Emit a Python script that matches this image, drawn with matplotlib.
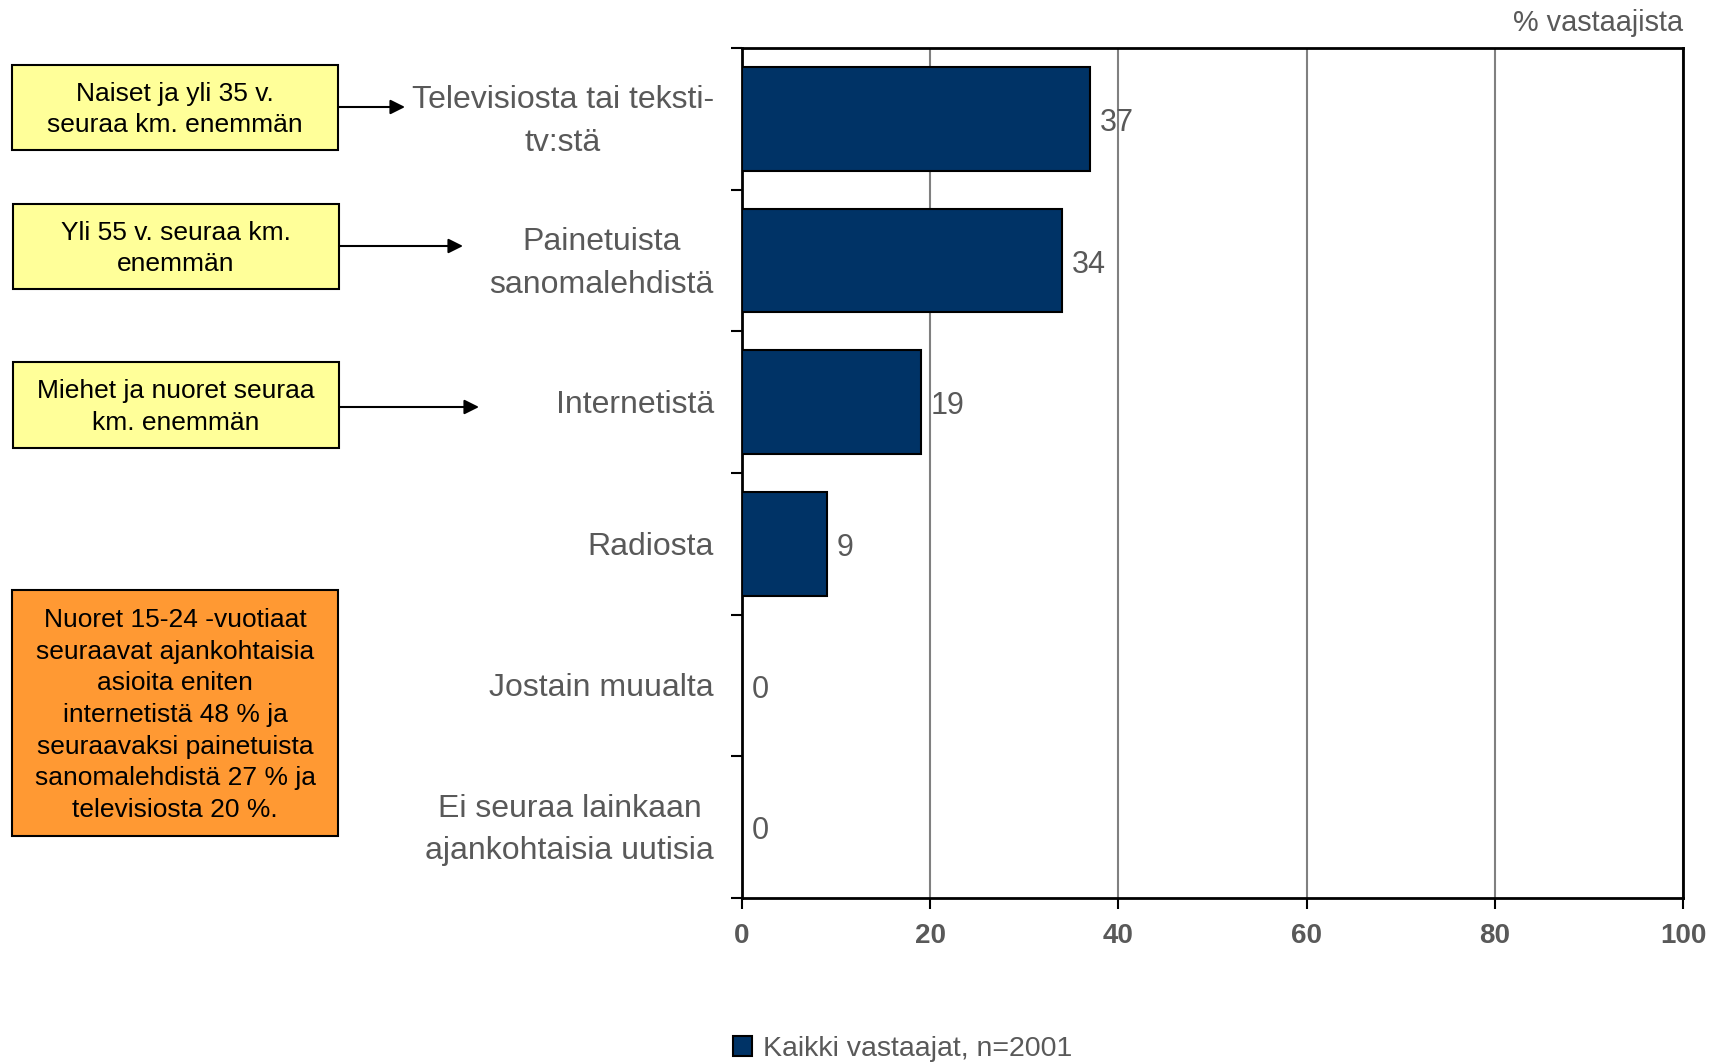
import matplotlib
matplotlib.use("Agg")
import matplotlib.pyplot as plt
from matplotlib.patches import Rectangle, Patch
from matplotlib import font_manager

plt.rcParams['font.family'] = ['Liberation Sans', 'DejaVu Sans']

categories = ["Televisiosta tai teksti-\ntv:stä", "Painetuista\nsanomalehdistä", "Internetistä",
              "Radiosta", "Jostain muualta", "Ei seuraa lainkaan\najankohtaisia uutisia"]
values = [37, 34, 19, 9, 0, 0]
xticks = [0, 20, 40, 60, 80, 100]
series_label = "Kaikki vastaajat, n=2001"
unit_label = "% vastaajista"

notes = ["Naiset ja yli 35 v.\nseuraa km. enemmän",
         "Yli 55 v. seuraa km.\nenemmän",
         "Miehet ja nuoret seuraa\nkm. enemmän"]
orange_note = ("Nuoret 15-24 -vuotiaat\nseuraavat ajankohtaisia\nasioita eniten\n"
               "internetistä 48 % ja\nseuraavaksi painetuista\nsanomalehdistä 27 % ja\n"
               "televisiosta 20 %.")

names = {f.name for f in font_manager.fontManager.ttflist}
narrow = 'Liberation Sans Narrow' in names

W, H = 1717, 1063
fig = plt.figure(figsize=(W / 100, H / 100), dpi=100)
ax = fig.add_axes([742 / W, 1 - 898 / H, (1683 - 742) / W, (898 - 48) / H])

bar_color = '#003366'
gray = '#595959'
n = len(categories)
pos = list(range(n))
ax.barh(pos, values, height=0.73, color=bar_color, edgecolor='black', linewidth=1.5, zorder=3)
ax.set_ylim(n - 0.5, -0.5)
ax.set_xlim(0, 100)

ax.set_xticks(xticks)
if narrow:
    ax.set_xticklabels([str(t) for t in xticks], fontweight='bold', color=gray, fontsize=21,
                       family='Liberation Sans Narrow')
else:
    ax.set_xticklabels([str(t) for t in xticks], fontweight='bold', color=gray, fontsize=20,
                       fontstretch='condensed')
ax.set_yticks([i - 0.5 for i in range(n + 1)])
ax.set_yticklabels([])
ax.tick_params(axis='x', length=8, width=1.5, pad=10, direction='out')
ax.tick_params(axis='y', length=8, width=1.5, direction='out')
ax.xaxis.grid(True, color='#808080', linewidth=1.5, zorder=0)
ax.set_axisbelow(True)
for s in ax.spines.values():
    s.set_linewidth(2)
    s.set_color('black')

for i, (c, v) in enumerate(zip(categories, values)):
    ax.text(-0.03, i + 0.02, c, transform=ax.get_yaxis_transform(), ha='right', va='center',
            multialignment='center', fontsize=23, color=gray, linespacing=1.55)
    ax.annotate(str(v), (v, i + 0.03), xytext=(7, 0), textcoords='offset points', ha='left',
                va='center', fontsize=22, color=gray)

fig.text(1683 / W, 1 - 23 / H, unit_label, ha='right', va='center', fontsize=20.8, color=gray)

fig.legend(handles=[Patch(facecolor=bar_color, edgecolor='black', linewidth=1.5, label=series_label)],
           loc='center', bbox_to_anchor=(903 / W, 1 - 1049 / H), frameon=False, fontsize=20.5,
           handlelength=0.65, handleheight=0.65, handletextpad=0.4, labelcolor=gray)

# overlay for annotation boxes
ov = fig.add_axes([0, 0, 1, 1])
ov.set_xlim(0, W)
ov.set_ylim(H, 0)
ov.axis('off')
ov.patch.set_alpha(0)

boxes = [(12, 65, 338, 150), (13, 204, 339, 289), (13, 362, 339, 448)]
arrow_ends = [(405, 107), (463, 246), (479, 407)]
for (x0, y0, x1, y1), txt, (ax_end, ay) in zip(boxes, notes, arrow_ends):
    ov.add_patch(Rectangle((x0, y0), x1 - x0, y1 - y0, facecolor='#FFFF99', edgecolor='black', linewidth=1.5))
    ov.text((x0 + x1) / 2, (y0 + y1) / 2 + 2, txt, ha='center', va='center', fontsize=19,
            color='black', linespacing=1.42)
    ov.annotate('', xy=(ax_end, ay), xytext=(x1, ay),
                arrowprops=dict(arrowstyle='-|>', color='black', lw=1.5, mutation_scale=22,
                                shrinkA=0, shrinkB=0))

ov.add_patch(Rectangle((12, 590), 326, 246, facecolor='#FF9933', edgecolor='black', linewidth=1.5))
ov.text(175, 715, orange_note, ha='center', va='center', fontsize=19, color='black', linespacing=1.40)

fig.savefig('out.png', dpi=100)
